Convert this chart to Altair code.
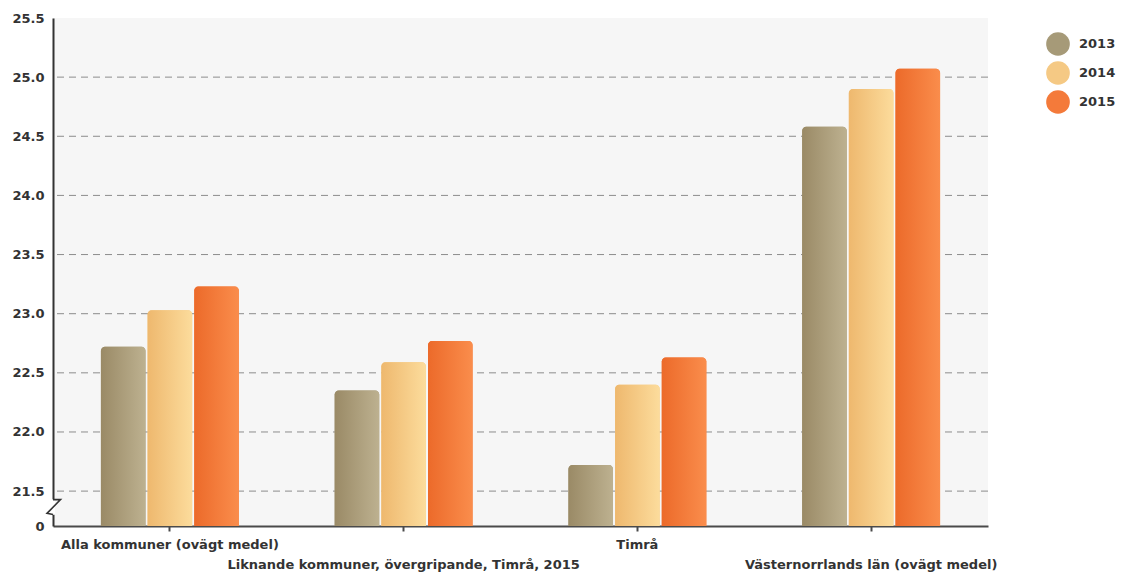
import json
import altair as alt
import pandas as pd

# ---- data ----
CATEGORIES = [
    "Alla kommuner (ovägt medel)",
    "Liknande kommuner, övergripande, Timrå, 2015",
    "Timrå",
    "Västernorrlands län (ovägt medel)",
]
YEARS = ["2013", "2014", "2015"]
V2013 = [22.72, 22.35, 21.72, 24.58]
V2014 = [23.03, 22.59, 22.40, 24.90]
V2015 = [23.23, 22.77, 22.63, 25.07]
Y_TICKS = [21.5, 22.0, 22.5, 23.0, 23.5, 24.0, 24.5, 25.0, 25.5]
GRID_VALUES = [21.5, 22.0, 22.5, 23.0, 23.5, 24.0, 24.5, 25.0]
AXIS_BASE = 21.205         # bottom of the broken axis, labelled "0"
BREAK_TOP = 21.43
BREAK_BOTTOM = 21.30
BREAK_MID = 21.365

LEGEND_COLORS = ["#a69a78", "#f5c984", "#f47a3a"]
GRADIENTS = {
    "2013": ("#9a8a66", "#bdb190"),
    "2014": ("#eeb86e", "#fcdc9c"),
    "2015": ("#ec6a2a", "#fa8d4c"),
}

rows = []
for i, c in enumerate(CATEGORIES):
    for y, vals in zip(YEARS, [V2013, V2014, V2015]):
        rows.append({"category": c, "year": y, "value": vals[i]})
df = pd.DataFrame(rows)

FONT = "DejaVu Sans"
TXT = "#333333"


def grad(c0, c1):
    return alt.Gradient(
        gradient="linear",
        stops=[alt.GradientStop(color=c0, offset=0), alt.GradientStop(color=c1, offset=1)],
        x1=0, x2=1, y1=0, y2=0,
    )


cat_list = json.dumps(CATEGORIES, ensure_ascii=False)
x_enc = alt.X(
    "category:N",
    sort=CATEGORIES,
    scale=alt.Scale(domain=CATEGORIES, paddingInner=0.41, paddingOuter=0.205),
    axis=alt.Axis(
        title=None,
        labelAngle=0,
        labelExpr=f"indexof({cat_list}, datum.value) % 2 == 1 ? ['', datum.label] : datum.label",
        labelLineHeight=20,
        labelBaseline="top",
        labelFont=FONT,
        labelFontSize=13,
        labelFontWeight="bold",
        labelColor=TXT,
        labelPadding=7,
        labelLimit=500,
        domainColor="#4a4a4a",
        domainWidth=2,
        tickColor="#4a4a4a",
        tickWidth=2,
        tickSize=5,
        grid=False,
    ),
)
xoff_enc = alt.XOffset("year:N", scale=alt.Scale(domain=YEARS, paddingInner=0.045, paddingOuter=0))
y_scale = alt.Scale(domain=[AXIS_BASE, 25.5], zero=False, nice=False)
y_axis = alt.Axis(
    title=None,
    values=[AXIS_BASE] + Y_TICKS,
    labelExpr="datum.value < 21.4 ? '0' : format(datum.value, '.1f')",
    grid=False,
    ticks=False,
    labelFont=FONT,
    labelFontSize=13,
    labelFontWeight="bold",
    labelColor=TXT,
    labelPadding=9,
    domainColor="#333333",
    domainWidth=2,
)
y_enc = alt.Y("value:Q", scale=y_scale, axis=y_axis)

grid = alt.Chart(pd.DataFrame({"g": GRID_VALUES})).mark_rule(
    strokeDash=[7, 5], color="#8c8c8c", strokeWidth=1
).encode(y=alt.Y("g:Q", scale=y_scale, axis=y_axis))

base_bars = alt.Chart(df).mark_bar(cornerRadiusTopLeft=4, cornerRadiusTopRight=4).encode(
    x=x_enc,
    xOffset=xoff_enc,
    y=y_enc,
    y2=alt.datum(AXIS_BASE),
    color=alt.Color(
        "year:N",
        scale=alt.Scale(domain=YEARS, range=LEGEND_COLORS),
        legend=alt.Legend(
            title=None,
            orient="none",
            legendX=993,
            legendY=14,
            symbolType="circle",
            symbolSize=560,
            symbolStrokeWidth=0,
            labelFont=FONT,
            labelFontSize=13,
            labelFontWeight="bold",
            labelColor=TXT,
            labelOffset=9,
            rowPadding=5,
            padding=0,
        ),
    ),
)

layers = [grid, base_bars]
for yr in YEARS:
    c0, c1 = GRADIENTS[yr]
    layers.append(
        alt.Chart(df)
        .transform_filter(alt.datum.year == yr)
        .mark_bar(color=grad(c0, c1), cornerRadiusTopLeft=4, cornerRadiusTopRight=4)
        .encode(x=x_enc, xOffset=xoff_enc, y=y_enc, y2=alt.datum(AXIS_BASE))
    )

# axis break mark (white mask + zigzag)
mask = alt.Chart(pd.DataFrame({"a": [BREAK_TOP], "b": [BREAK_BOTTOM]})).mark_rule(
    color="white", strokeWidth=4
).encode(x=alt.value(0), y=alt.Y("a:Q", scale=y_scale, axis=y_axis), y2="b:Q")
zig = alt.Chart(pd.DataFrame({"m": [BREAK_MID]})).mark_point(
    shape="M0,-0.5 L0.5,-0.5 L-0.4,0.42 L0,0.5",
    size=900,
    filled=False,
    color="#333333",
    strokeWidth=1.6,
    opacity=1,
).encode(x=alt.value(0), y=alt.Y("m:Q", scale=y_scale, axis=y_axis))
layers += [mask, zig]

chart = (
    alt.layer(*layers)
    .properties(
        width=935,
        height=508,
        autosize=alt.AutoSizeParams(type="none"),
        padding={"left": 45, "top": 10, "right": 130, "bottom": 47},
        background="white",
    )
    .configure_view(stroke=None, fill="#f6f6f6")
)

chart.save("out.html", embed_options={"renderer": "svg", "actions": False})
